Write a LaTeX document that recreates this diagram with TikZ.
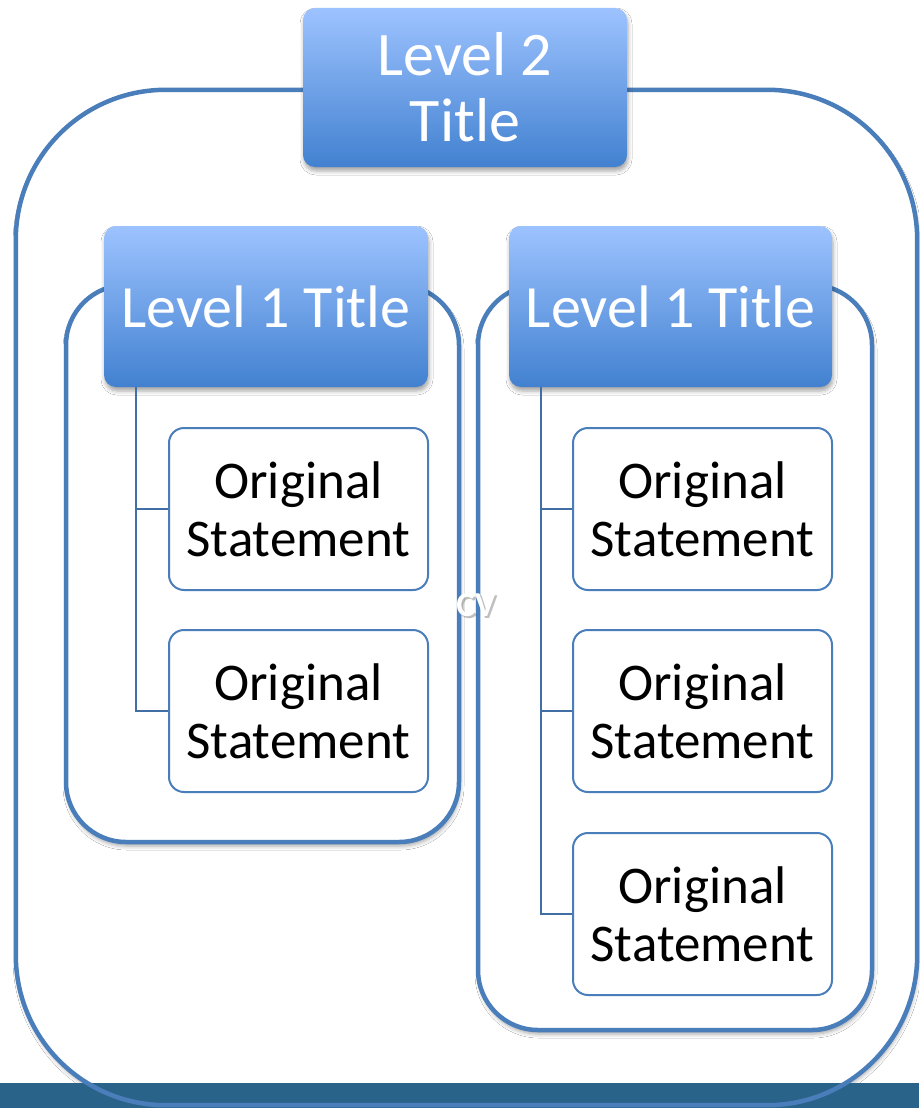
\documentclass[tikz,border=0pt]{standalone}
\usepackage{fontspec}
\setmainfont{Carlito}
\usetikzlibrary{shadows.blur}
\definecolor{outl}{RGB}{74,126,187}
\definecolor{gtop}{RGB}{157,195,255}
\definecolor{gbot}{RGB}{66,129,208}
\definecolor{bandc}{RGB}{42,99,137}
\definecolor{connc}{RGB}{65,110,165}
\begin{document}
\begin{tikzpicture}[x=1pt,y=-1pt,
  softshadow/.style={blur shadow={shadow xshift=1pt, shadow yshift=-4pt, shadow blur radius=4pt, shadow opacity=35}},
  titlebox/.style={draw=none, top color=gtop, bottom color=gbot, rounded corners=12pt, inner sep=0pt,
    text=white, align=center, font=\fontsize{62}{66}\selectfont, softshadow},
  stmt/.style={draw=outl, line width=2pt, fill=white, rounded corners=15pt, inner sep=0pt,
    minimum width=259pt, minimum height=162pt, align=center, font=\fontsize{53}{58}\selectfont},
  container/.style={draw=outl, line width=4.5pt, fill=white, rounded corners=60pt, inner sep=0pt, softshadow},
  connline/.style={draw=connc, line width=2pt}
]
\useasboundingbox (0,0) rectangle (919,1108);
\fill[white] (0,0) rectangle (919,1108);

% outer container
\node[draw=none, fill=white, rounded corners=150pt, inner sep=0pt, minimum width=901pt, minimum height=1015pt, softshadow] (out) at (466.5,597.5) {};
\fill[bandc] (0,1083) rectangle (919,1108);
\draw[outl, line width=4.5pt, rounded corners=150pt] (out.north west) rectangle (out.south east);

% level 1 containers
\node[container, minimum width=393pt, minimum height=557pt] (ca) at (262.5,563.5) {};
\node[container, minimum width=394pt, minimum height=745pt] (cb) at (675,657.5) {};

% titles
\node[titlebox, minimum width=324pt, minimum height=159pt] (l2) at (465,87.5) {Level 2\\Title};
\node[titlebox, minimum width=324pt, minimum height=161pt, font=\fontsize{60}{66}\selectfont] (l1a) at (266,306.5) {Level 1 Title};
\node[titlebox, minimum width=323pt, minimum height=161pt, font=\fontsize{60}{66}\selectfont] (l1b) at (670.5,306.5) {Level 1 Title};

% statements
\node[stmt] (sa1) at (298.5,509) {Original\\Statement};
\node[stmt] (sa2) at (298.5,711) {Original\\Statement};
\node[stmt] (sb1) at (702.5,509) {Original\\Statement};
\node[stmt] (sb2) at (702.5,711) {Original\\Statement};
\node[stmt] (sb3) at (702.5,914) {Original\\Statement};

% connectors
\draw[connline] ([xshift=32pt]l1a.south west) |- (sa1.west);
\draw[connline] ([xshift=32pt]l1a.south west) |- (sa2.west);
\draw[connline] ([xshift=32pt]l1b.south west) |- (sb1.west);
\draw[connline] ([xshift=32pt]l1b.south west) |- (sb2.west);
\draw[connline] ([xshift=32pt]l1b.south west) |- (sb3.west);

% watermark
\node[text=black, opacity=0.25, font=\fontsize{35}{35}\selectfont\bfseries] (cvs) at (478,607) {CV};
\node[text=white, font=\fontsize{35}{35}\selectfont\bfseries] (cv) at (476,605) {CV};
\end{tikzpicture}
\end{document}
